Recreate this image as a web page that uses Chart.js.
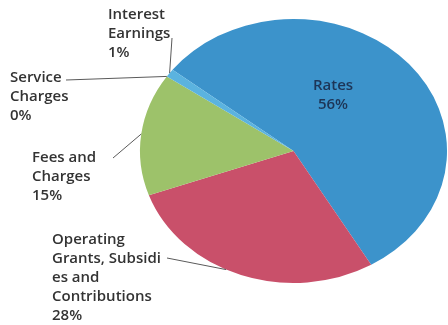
<!DOCTYPE html>
<html>
<head>
<meta charset="utf-8">
<script src="https://cdn.jsdelivr.net/npm/chart.js@4.4.1/dist/chart.umd.min.js"></script>
<style>
  html, body { margin: 0; padding: 0; background: #fff; }
  #wrap { width: 448px; height: 325px; }
</style>
</head>
<body>
<div id="wrap"><canvas id="revenuePie" width="448" height="325"></canvas></div>
<script>
// revenue sources, share of total (%)
var categories = ['Rates', 'Operating Grants, Subsidies and Contributions', 'Fees and Charges', 'Service Charges', 'Interest Earnings'];
var shares = [56, 28, 15, 0, 1];
var sliceColors = ['#3c93cb', '#c9506a', '#9dc26a', '#9dc26a', '#5bb3df'];

// how each category name is wrapped on the chart
var labelLines = [
  ['Rates'],
  ['Operating', 'Grants, Subsidi', 'es and', 'Contributions'],
  ['Fees and', 'Charges'],
  ['Service', 'Charges'],
  ['Interest', 'Earnings']
];

// label placement: x,y of first line, alignment, leader start and where
// along the slice it meets the edge (null = label sits inside)
var labelPos = [
  { x: 333, y: 86, align: 'center', color: '#1d3557', lead: null },
  { x: 52, y: 240, align: 'left', color: '#333333', lead: [167, 258], at: 0.56 },
  { x: 32, y: 158, align: 'left', color: '#333333', lead: [113, 158], at: 0.5 },
  { x: 10, y: 78, align: 'left', color: '#333333', lead: [66, 80], at: 0.5 },
  { x: 108, y: 15, align: 'left', color: '#333333', lead: [172, 38], at: 0.5 }
];

var xStretch = 1.163;   // pie is drawn as an ellipse
var lineH = 19;

const squashPie = {
  id: 'squashPie',
  beforeDatasetsDraw(chart) {
    const arc = chart.getDatasetMeta(0).data[0];
    const ctx = chart.ctx;
    ctx.save();
    ctx.translate(arc.x, arc.y);
    ctx.scale(xStretch, 1);
    ctx.translate(-arc.x, -arc.y);
  },
  afterDatasetsDraw(chart) {
    chart.ctx.restore();
  }
};

const pieLabels = {
  id: 'pieLabels',
  afterDraw(chart) {
    const ctx = chart.ctx;
    const meta = chart.getDatasetMeta(0);
    ctx.save();
    ctx.font = '600 15px "Open Sans"';
    ctx.textBaseline = 'middle';
    meta.data.forEach(function (arc, i) {
      const p = labelPos[i];
      if (p.lead) {
        const a = arc.startAngle + (arc.endAngle - arc.startAngle) * p.at;
        const ex = arc.x + Math.cos(a) * arc.outerRadius * xStretch;
        const ey = arc.y + Math.sin(a) * arc.outerRadius;
        ctx.strokeStyle = '#5a5a5a';
        ctx.lineWidth = 1;
        ctx.beginPath();
        ctx.moveTo(p.lead[0], p.lead[1]);
        ctx.lineTo(ex, ey);
        ctx.stroke();
      }
      ctx.fillStyle = p.color;
      ctx.textAlign = p.align;
      const lines = labelLines[i].concat([shares[i] + '%']);
      lines.forEach(function (t, k) {
        ctx.fillText(t, p.x, p.y + k * lineH);
      });
    });
    ctx.restore();
  }
};

const ctx = document.getElementById('revenuePie').getContext('2d');
const revenueChart = new Chart(ctx, {
  type: 'pie',
  data: {
    labels: categories,
    datasets: [{
      data: shares,
      backgroundColor: sliceColors,
      borderWidth: 0,
      hoverOffset: 0
    }]
  },
  plugins: [squashPie, pieLabels],
  options: {
    responsive: false,
    animation: false,
    rotation: -52,
    layout: { padding: { left: 161.5, right: 22.5, top: 19, bottom: 42 } },
    plugins: {
      legend: { display: false },
      tooltip: { enabled: false }
    }
  }
});
</script>
</body>
</html>
